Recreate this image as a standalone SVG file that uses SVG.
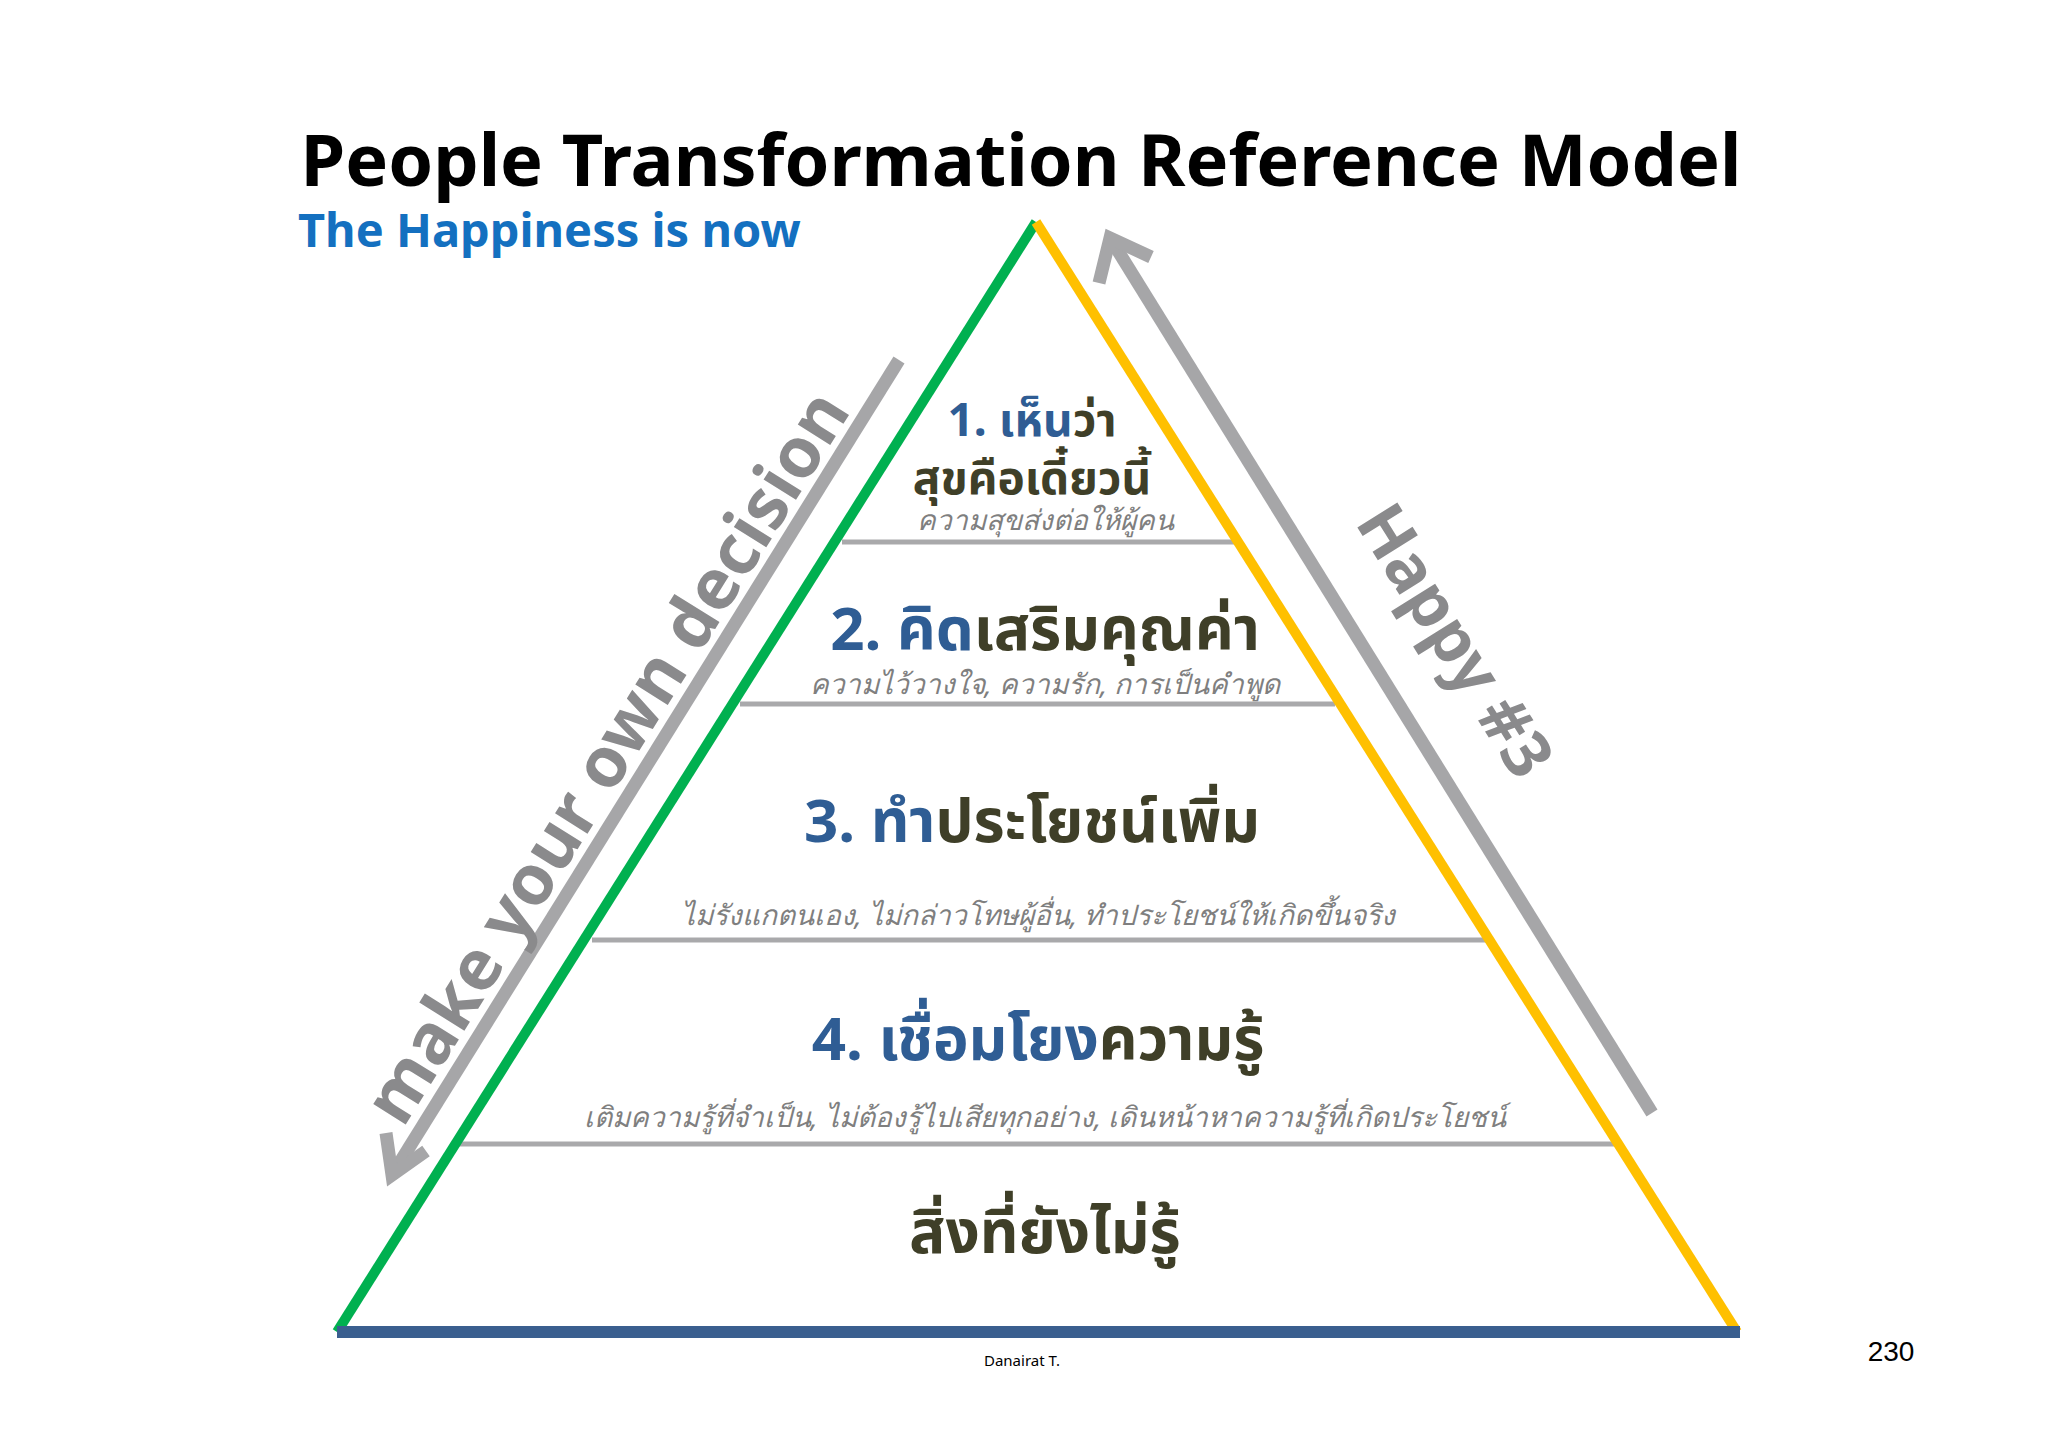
<svg xmlns="http://www.w3.org/2000/svg" width="2048" height="1448" viewBox="0 0 2048 1448">
<defs><style>
.t{font-family:"Noto Sans","Noto Sans Thai","DejaVu Sans",sans-serif;font-weight:bold;text-anchor:middle}
.b{fill:#2f5d94}.o{fill:#3f3f28}
.s{font-family:"Noto Sans","DejaVu Sans",sans-serif;font-style:italic;fill:#7f7f7f;text-anchor:middle;font-size:28px}
.g{stroke:#a9a9ab;stroke-width:5}
.arr{stroke:#a6a6a8;stroke-width:13;fill:none}
</style></defs>
<rect width="2048" height="1448" fill="#fff"/>
<text x="1021" y="186" class="t" font-size="72" fill="#000">People Transformation Reference Model</text>
<text x="298" y="247" font-family="Noto Sans,sans-serif" font-weight="bold" font-size="47" fill="#1470c0">The Happiness is now</text>
<g id="connectors">
<path class="arr" d="M899,360 L392,1175"/>
<path class="arr" d="M426,1151 L392,1175 L386,1133"/>
<path class="arr" d="M1652,1113 L1110,238"/>
<path class="arr" d="M1099,283 L1110,238 L1151,257"/>
</g>
<g id="pyramid">
<line class="g" x1="842" y1="542" x2="1234" y2="542"/>
<line class="g" x1="740" y1="704" x2="1335" y2="704"/>
<line class="g" x1="592" y1="940" x2="1486" y2="940"/>
<line class="g" x1="457" y1="1144" x2="1619" y2="1144"/>
<line x1="1036" y1="222" x2="337" y2="1332" stroke="#00b050" stroke-width="10"/>
<line x1="1036" y1="222" x2="1737" y2="1332" stroke="#ffc000" stroke-width="10"/>
<line x1="337" y1="1332" x2="1740" y2="1332" stroke="#3a5f8f" stroke-width="12"/>
</g>
<g id="level1">
<text x="1032" y="436" class="t" font-size="46"><tspan class="b">1. เห็น</tspan><tspan class="o">ว่า</tspan></text>
<text x="1032" y="494" class="t o" font-size="46">สุขคือเดี๋ยวนี้</text>
<text x="1045" y="530" class="s" font-size="26">ความสุขส่งต่อให้ผู้คน</text>
</g>
<g id="level2">
<text x="1045" y="650" class="t" font-size="60"><tspan class="b">2. คิด</tspan><tspan class="o">เสริมคุณค่า</tspan></text>
<text x="1045" y="694" class="s">ความไว้วางใจ, ความรัก, การเป็นคำพูด</text>
</g>
<g id="level3">
<text x="1032" y="842" class="t" font-size="60"><tspan class="b">3. ทำ</tspan><tspan class="o">ประโยชน์เพิ่ม</tspan></text>
<text x="1038" y="925" class="s">ไม่รังแกตนเอง, ไม่กล่าวโทษผู้อื่น, ทำประโยชน์ให้เกิดขึ้นจริง</text>
</g>
<g id="level4">
<text x="1038" y="1060" class="t" font-size="60"><tspan class="b">4. เชื่อมโยง</tspan><tspan class="o">ความรู้</tspan></text>
<text x="1045" y="1127" class="s">เติมความรู้ที่จำเป็น, ไม่ต้องรู้ไปเสียทุกอย่าง, เดินหน้าหาความรู้ที่เกิดประโยชน์</text>
</g>
<g id="level5">
<text x="1045" y="1253" class="t o" font-size="60">สิ่งที่ยังไม่รู้</text>
</g>
<text transform="translate(607,757) rotate(-58)" y="24" class="t" font-size="70" fill="#8a8a8c">make your own decision</text>
<text transform="translate(1456,640) rotate(58)" y="24" class="t" font-size="66" fill="#8a8a8c">Happy #3</text>
<text x="1022" y="1366" font-family="Noto Sans,sans-serif" font-size="15" text-anchor="middle" fill="#000">Danairat T.</text>
<text x="1891" y="1361" font-family="Liberation Sans,sans-serif" font-size="28" text-anchor="middle" fill="#000">230</text>
</svg>
